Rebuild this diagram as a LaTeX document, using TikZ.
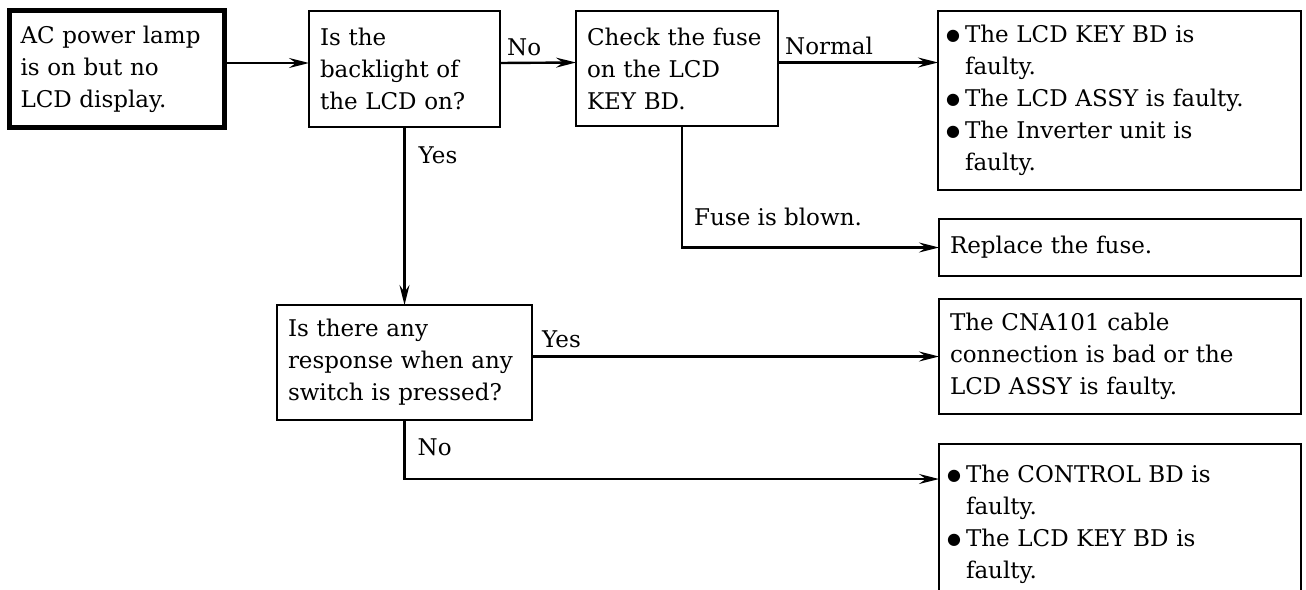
\documentclass[tikz,border=0pt]{standalone}
\usepackage{fontspec}
\setmainfont{DejaVu Serif}
\newfontfamily\symfont{DejaVu Sans}
\usetikzlibrary{arrows.meta,positioning}
\newcommand{\bul}{\makebox[19pt][l]{\raisebox{2pt}{\symfont\fontsize{16}{16}\selectfont ●}}}
\newcommand{\bulskip}{\hspace*{19pt}}

\begin{document}
\begin{tikzpicture}[
    x=1pt, y=-1pt,
    every node/.style={font=\fontsize{23}{32}\selectfont},
    box/.style={draw, line width=2.4pt, outer sep=0pt, inner xsep=11pt, inner ysep=0pt,
                align=left, anchor=north west},
    startbox/.style={box, line width=5.5pt, inner xsep=11pt},
    listbox/.style={box, inner xsep=8pt},
    flow/.style={line width=2.4pt, -{Stealth[length=20pt, width=10pt, inset=7pt]}},
    lbl/.style={at start, anchor=base west, inner sep=0pt},
]
\useasboundingbox (0,0) rectangle (1306,589);

\node[startbox, minimum width=215pt, minimum height=117pt, text width=193pt] (start) at (9.5,10.5)
    {AC power lamp\\is on but no\\LCD display.};
\node[box, minimum width=191pt, minimum height=116pt, text width=169pt] (q1) at (309,11)
    {Is the\\backlight of\\the LCD on?};
\node[box, minimum width=202pt, minimum height=115pt, text width=180pt] (fuse) at (576,11)
    {Check the fuse\\on the LCD\\KEY BD.};
\node[listbox, minimum width=363pt, minimum height=179pt, text width=347pt] (faulty1) at (938,11)
    {\bul The LCD KEY BD is\\\bulskip faulty.\\\bul The LCD ASSY is faulty.\\\bul The Inverter unit is\\\bulskip faulty.};
\node[box, minimum width=362pt, minimum height=57pt, text width=340pt] (replace) at (939,219)
    {Replace the fuse.};
\node[box, minimum width=255pt, minimum height=115pt, text width=233pt] (q2) at (277,305)
    {Is there any\\response when any\\switch is pressed?};
\node[box, minimum width=362pt, minimum height=115pt, text width=340pt] (cable) at (939,299)
    {The CNA101 cable\\connection is bad or the\\LCD ASSY is faulty.};
\node[listbox, minimum width=362pt, minimum height=160pt, text width=346pt] (ctrl) at (939,444)
    {\bul The CONTROL BD is\\\bulskip faulty.\\\bul The LCD KEY BD is\\\bulskip faulty.};

\draw[flow] ([yshift=6pt]start.east) -- ([yshift=6pt]q1.west);
\draw[flow] ([yshift=6pt]q1.east) -- node[lbl, xshift=6pt, yshift=8pt] (lblno1) {No} ([yshift=6pt]fuse.west);
\draw[flow] ([yshift=6pt]fuse.east) -- node[lbl, xshift=6pt, yshift=8pt] (lblnormal) {Normal} ([yshift=6pt]fuse.east -| faulty1.west);
\draw[flow] ([xshift=5pt]fuse.south) |- node[lbl, xshift=11pt, yshift=-99pt] (lblblown) {Fuse is blown.} (replace.west);
\draw[flow] (q1.south) -- node[lbl, xshift=13pt, yshift=-36pt] (lblyes1) {Yes} (q2.north);
\draw[flow] (cable.west -| q2.east) -- node[lbl, xshift=9pt, yshift=9pt] (lblyes2) {Yes} (cable.west);
\draw[flow] (q2.south) |- node[lbl, xshift=12pt, yshift=-35pt] (lblno2) {No} ([yshift=-35pt]ctrl.north west);
\end{tikzpicture}
\end{document}
